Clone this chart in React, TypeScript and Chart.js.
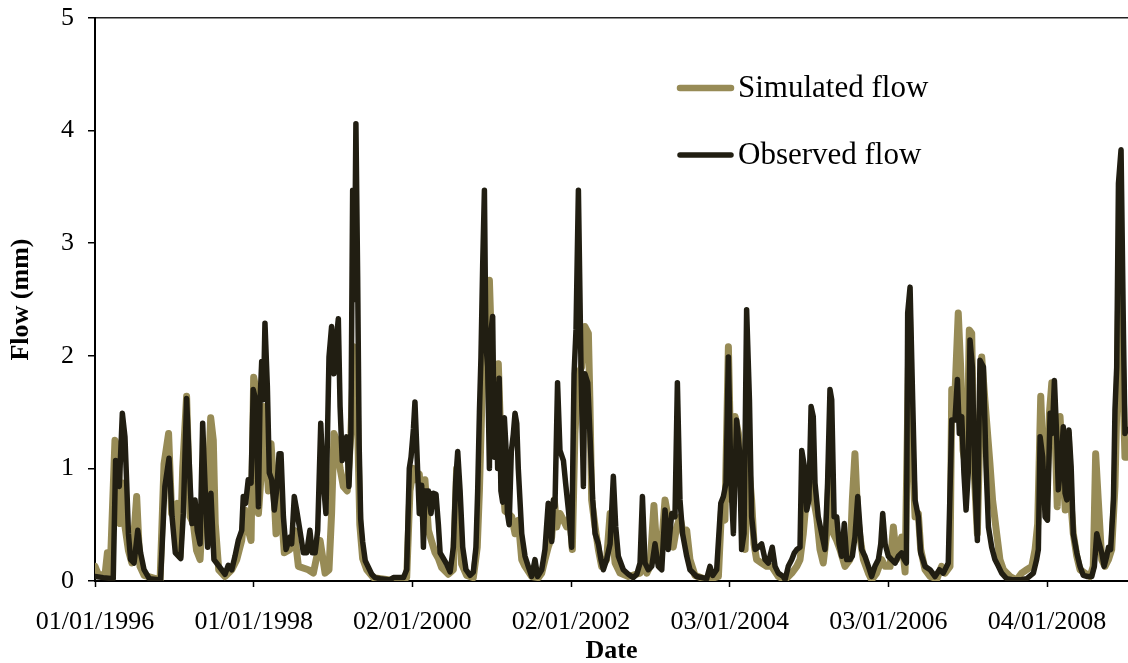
import React, { useEffect, useRef } from 'react';
import { Chart, registerables } from 'chart.js';

Chart.register(...registerables);

// x positions are days since 01/01/1996
const tickDays = [0, 731, 1462, 2193, 2924, 3655, 4386];
const tickLabels = ['01/01/1996', '01/01/1998', '02/01/2000', '02/01/2002', '03/01/2004', '03/01/2006', '04/01/2008'];

const observedDays = [
  0, 38, 84, 95, 112, 126, 138, 146, 154, 164,
  180, 197, 210, 226, 250, 302, 322, 341, 355, 370,
  395, 407, 422, 438, 447, 461, 471, 484, 496, 508,
  519, 534, 548, 576, 599, 614, 630, 645, 660, 676,
  683, 694, 706, 719, 729, 740, 753, 760, 768, 776,
  783, 794, 803, 814, 826, 837, 848, 857, 868, 880,
  898, 906, 918, 929, 944, 960, 975, 990, 1001, 1014,
  1026, 1040, 1052, 1064, 1078, 1090, 1101, 1110, 1121, 1129,
  1139, 1149, 1159, 1170, 1179, 1187, 1195, 1202, 1210, 1217,
  1224, 1233, 1245, 1260, 1275, 1290, 1313, 1359, 1375, 1421,
  1436, 1448, 1456, 1467, 1474, 1482, 1494, 1505, 1513, 1520,
  1536, 1548, 1559, 1571, 1582, 1590, 1605, 1620, 1636, 1651,
  1662, 1671, 1682, 1694, 1709, 1728, 1743, 1755, 1763, 1771,
  1778, 1786, 1794, 1801, 1809, 1817, 1823, 1832, 1840, 1848,
  1855, 1862, 1870, 1878, 1886, 1893, 1900, 1908, 1918, 1927,
  1935, 1943, 1950, 1966, 1981, 1996, 2012, 2027, 2039, 2058,
  2073, 2088, 2104, 2112, 2119, 2131, 2142, 2158, 2168, 2181,
  2196, 2207, 2216, 2227, 2239, 2250, 2257, 2270, 2280, 2293,
  2304, 2319, 2331, 2342, 2357, 2373, 2388, 2399, 2411, 2434,
  2457, 2480, 2496, 2511, 2522, 2534, 2549, 2565, 2580, 2595,
  2611, 2626, 2641, 2657, 2672, 2683, 2695, 2707, 2726, 2741,
  2772, 2818, 2833, 2846, 2864, 2883, 2895, 2907, 2918, 2930,
  2941, 2956, 2969, 2979, 2990, 3002, 3015, 3025, 3041, 3056,
  3071, 3087, 3102, 3120, 3133, 3148, 3171, 3179, 3194, 3210,
  3222, 3233, 3248, 3256, 3268, 3279, 3289, 3299, 3309, 3317,
  3332, 3348, 3363, 3375, 3386, 3394, 3405, 3417, 3428, 3440,
  3452, 3463, 3478, 3489, 3501, 3514, 3524, 3532, 3547, 3563,
  3578, 3593, 3609, 3620, 3629, 3640, 3655, 3670, 3686, 3701,
  3716, 3728, 3738, 3744, 3755, 3767, 3778, 3793, 3804, 3824,
  3847, 3870, 3890, 3908, 3931, 3947, 3962, 3973, 3982, 3993,
  4003, 4013, 4023, 4031, 4042, 4054, 4065, 4077, 4093, 4105,
  4116, 4131, 4146, 4162, 4177, 4200, 4231, 4261, 4292, 4323,
  4338, 4346, 4354, 4366, 4377, 4388, 4400, 4410, 4420, 4430,
  4438, 4449, 4461, 4469, 4477, 4487, 4497, 4507, 4523, 4538,
  4553, 4572, 4592, 4604, 4615, 4627, 4638, 4649, 4661, 4669,
  4679, 4692, 4699, 4707, 4715, 4727, 4738, 4745, 4752,
];

const observedFlow = [
  0.04, 0.03, 0.02, 1.07, 0.84, 1.49, 1.28, 0.87, 0.42, 0.19,
  0.16, 0.45, 0.25, 0.10, 0.02, 0.01, 0.84, 1.09, 0.57, 0.25,
  0.20, 0.60, 1.62, 0.87, 0.51, 0.72, 0.45, 0.33, 1.40, 0.80,
  0.30, 0.78, 0.19, 0.12, 0.06, 0.14, 0.10, 0.22, 0.36, 0.45,
  0.75, 0.69, 0.90, 0.87, 1.70, 1.61, 0.66, 1.58, 1.95, 1.61,
  2.29, 1.73, 0.96, 0.90, 0.63, 0.81, 1.13, 1.13, 0.57, 0.28,
  0.39, 0.33, 0.75, 0.63, 0.45, 0.25, 0.25, 0.45, 0.25, 0.25,
  0.45, 1.40, 0.87, 0.60, 1.99, 2.26, 1.84, 2.11, 2.33, 1.55,
  1.07, 1.13, 1.28, 0.84, 1.31, 3.47, 2.50, 4.06, 2.70, 1.20,
  0.55, 0.35, 0.18, 0.12, 0.06, 0.03, 0.02, 0.01, 0.03, 0.03,
  0.10, 1.00, 1.10, 1.35, 1.59, 1.20, 0.60, 0.85, 0.30, 0.80,
  0.80, 0.60, 0.78, 0.77, 0.50, 0.25, 0.20, 0.15, 0.08, 0.30,
  0.90, 1.15, 0.80, 0.30, 0.10, 0.05, 0.08, 0.30, 0.80, 1.50,
  1.98, 2.80, 3.47, 2.10, 1.90, 1.00, 2.20, 2.35, 1.10, 1.75,
  1.00, 1.80, 0.80, 0.70, 1.45, 1.20, 0.60, 0.50, 1.15, 1.30,
  1.49, 1.40, 1.00, 0.42, 0.22, 0.13, 0.04, 0.19, 0.04, 0.10,
  0.28, 0.69, 0.35, 0.72, 0.66, 1.76, 1.16, 1.07, 0.87, 0.63,
  0.30, 1.84, 2.23, 3.47, 1.90, 0.84, 1.84, 1.76, 1.31, 0.72,
  0.42, 0.33, 0.19, 0.10, 0.19, 0.33, 0.93, 0.48, 0.22, 0.10,
  0.06, 0.03, 0.06, 0.16, 0.75, 0.16, 0.10, 0.13, 0.33, 0.13,
  0.10, 0.63, 0.28, 0.60, 0.57, 1.76, 0.72, 0.42, 0.22, 0.10,
  0.04, 0.02, 0.13, 0.05, 0.10, 0.69, 0.75, 0.87, 1.99, 0.87,
  0.42, 1.43, 1.16, 0.28, 0.42, 2.41, 1.61, 0.57, 0.28, 0.30,
  0.33, 0.19, 0.16, 0.30, 0.13, 0.07, 0.04, 0.01, 0.13, 0.19,
  0.25, 0.28, 0.30, 1.16, 1.02, 0.63, 0.72, 1.55, 1.46, 0.87,
  0.57, 0.42, 0.28, 0.87, 1.70, 1.61, 0.57, 0.57, 0.33, 0.22,
  0.51, 0.19, 0.19, 0.22, 0.39, 0.75, 0.48, 0.28, 0.22, 0.13,
  0.04, 0.13, 0.19, 0.33, 0.60, 0.33, 0.22, 0.19, 0.16, 0.22,
  0.25, 0.19, 0.16, 2.38, 2.61, 1.61, 0.72, 0.57, 0.25, 0.13,
  0.10, 0.04, 0.10, 0.07, 0.16, 1.43, 1.43, 1.79, 1.31, 1.46,
  0.96, 0.63, 0.96, 2.14, 1.90, 0.87, 0.36, 1.96, 1.90, 1.02,
  0.48, 0.30, 0.19, 0.13, 0.07, 0.02, 0.01, 0.01, 0.02, 0.07,
  0.19, 0.28, 1.28, 1.10, 0.57, 0.54, 1.49, 1.31, 1.78, 1.31,
  0.81, 1.02, 1.37, 0.78, 0.72, 1.34, 1.02, 0.42, 0.25, 0.13,
  0.05, 0.04, 0.04, 0.13, 0.42, 0.33, 0.25, 0.13, 0.22, 0.30,
  0.28, 0.72, 1.52, 1.90, 3.53, 3.83, 2.20, 1.31, 1.35,
];

const simulatedDays = [
  0, 15, 46, 57, 69, 92, 108, 115, 126, 137,
  154, 170, 192, 207, 226, 300, 318, 339, 353, 379,
  392, 404, 422, 438, 453, 468, 484, 499, 514, 533,
  545, 554, 570, 599, 630, 653, 676, 691, 706, 719,
  731, 742, 753, 765, 777, 786, 799, 811, 822, 834,
  845, 854, 872, 898, 918, 937, 983, 1006, 1037, 1060,
  1078, 1090, 1101, 1113, 1129, 1144, 1162, 1179, 1193, 1204,
  1212, 1220, 1233, 1252, 1282, 1359, 1436, 1451, 1467, 1479,
  1494, 1505, 1520, 1536, 1551, 1567, 1582, 1597, 1628, 1651,
  1666, 1679, 1689, 1712, 1743, 1761, 1771, 1781, 1792, 1804,
  1817, 1828, 1843, 1858, 1874, 1889, 1904, 1920, 1935, 1950,
  1966, 1981, 2012, 2043, 2058, 2073, 2088, 2104, 2116, 2127,
  2142, 2158, 2173, 2188, 2199, 2211, 2227, 2242, 2257, 2273,
  2280, 2288, 2304, 2319, 2334, 2357, 2373, 2383, 2396, 2419,
  2457, 2511, 2526, 2542, 2557, 2575, 2588, 2603, 2626, 2637,
  2649, 2664, 2680, 2695, 2710, 2726, 2741, 2764, 2818, 2872,
  2887, 2902, 2918, 2933, 2949, 2964, 2979, 2995, 3008, 3025,
  3036, 3048, 3071, 3094, 3117, 3148, 3179, 3210, 3233, 3248,
  3263, 3279, 3294, 3309, 3325, 3340, 3355, 3371, 3386, 3402,
  3417, 3432, 3455, 3478, 3489, 3501, 3514, 3524, 3540, 3563,
  3578, 3601, 3624, 3640, 3663, 3678, 3693, 3716, 3732, 3744,
  3752, 3762, 3778, 3793, 3804, 3824, 3847, 3879, 3900, 3916,
  3939, 3947, 3962, 3977, 3988, 3999, 4016, 4028, 4039, 4049,
  4065, 4085, 4100, 4123, 4135, 4154, 4169, 4185, 4216, 4246,
  4269, 4292, 4316, 4331, 4343, 4357, 4369, 4384, 4397, 4408,
  4423, 4433, 4446, 4458, 4470, 4484, 4495, 4507, 4523, 4538,
  4561, 4584, 4599, 4610, 4622, 4638, 4653, 4669, 4684, 4699,
  4710, 4719, 4730, 4738, 4745, 4752,
];

const simulatedFlow = [
  0.13, 0.06, 0.05, 0.25, 0.04, 1.25, 1.16, 0.51, 0.87, 0.50,
  0.27, 0.16, 0.75, 0.13, 0.05, 0.01, 1.04, 1.31, 0.60, 0.69,
  0.22, 1.00, 1.64, 0.57, 0.51, 0.27, 0.19, 0.72, 0.50, 1.45,
  1.25, 0.51, 0.10, 0.04, 0.10, 0.19, 0.36, 0.63, 0.45, 0.36,
  1.81, 1.70, 0.60, 0.93, 1.55, 1.20, 0.80, 1.22, 0.90, 0.42,
  0.90, 0.75, 0.25, 0.28, 0.45, 0.13, 0.10, 0.07, 0.36, 0.07,
  0.10, 0.60, 1.31, 1.25, 1.00, 0.84, 0.80, 1.31, 2.08, 2.05,
  1.20, 0.50, 0.20, 0.10, 0.03, 0.01, 0.03, 0.80, 1.00, 0.90,
  0.95, 0.60, 0.90, 0.45, 0.35, 0.25, 0.20, 0.12, 0.06, 0.10,
  1.00, 0.60, 0.15, 0.05, 0.03, 0.30, 0.80, 1.50, 2.20, 2.20,
  2.67, 2.00, 1.50, 1.93, 1.00, 0.62, 0.60, 0.57, 0.42, 0.54,
  0.19, 0.13, 0.04, 0.03, 0.07, 0.19, 0.30, 0.39, 0.72, 0.48,
  0.60, 0.54, 0.48, 0.57, 0.28, 1.31, 1.84, 1.90, 2.26, 2.20,
  1.60, 0.72, 0.48, 0.28, 0.13, 0.19, 0.60, 0.42, 0.16, 0.07,
  0.04, 0.07, 0.19, 0.07, 0.13, 0.67, 0.28, 0.13, 0.72, 0.60,
  0.42, 0.30, 0.48, 0.57, 0.42, 0.45, 0.19, 0.05, 0.01, 0.04,
  0.66, 0.54, 2.08, 0.72, 1.46, 1.31, 0.87, 0.28, 1.10, 0.72,
  0.33, 0.19, 0.16, 0.13, 0.13, 0.04, 0.01, 0.07, 0.13, 0.19,
  0.42, 0.78, 0.87, 0.75, 0.57, 0.28, 0.16, 0.42, 1.16, 0.42,
  0.36, 0.28, 0.13, 0.19, 0.72, 1.13, 0.57, 0.39, 0.19, 0.07,
  0.01, 0.07, 0.19, 0.13, 0.13, 0.48, 0.19, 0.39, 0.08, 1.50,
  2.40, 1.30, 0.57, 0.60, 0.28, 0.10, 0.04, 0.02, 0.13, 0.07,
  0.13, 1.70, 1.67, 2.38, 1.90, 1.16, 0.96, 2.23, 2.20, 1.02,
  0.42, 1.99, 1.60, 1.04, 0.72, 0.42, 0.19, 0.10, 0.04, 0.01,
  0.07, 0.10, 0.13, 0.28, 0.51, 1.64, 1.02, 0.72, 1.49, 1.76,
  1.31, 0.66, 1.46, 1.02, 0.63, 1.31, 0.72, 0.42, 0.22, 0.10,
  0.07, 0.04, 0.13, 1.13, 0.72, 0.19, 0.13, 0.19, 0.28, 0.84,
  1.76, 2.90, 2.20, 1.60, 1.10, 1.10,
];

const SIM_COLOR = '#978b56';
const OBS_COLOR = '#211e12';
const FONT = '"Liberation Serif", "Times New Roman", serif';

const legendItems = [
  { label: 'Simulated flow', color: SIM_COLOR, width: 6.5 },
  { label: 'Observed flow', color: OBS_COLOR, width: 5.5 },
];

const insideLegend = {
  id: 'insideLegend',
  afterDraw(chart: any) {
    const ctx = chart.ctx;
    ctx.save();
    legendItems.forEach((it, i) => {
      const y = 88 + i * 67;
      ctx.strokeStyle = it.color;
      ctx.lineWidth = it.width;
      ctx.lineCap = 'round';
      ctx.beginPath();
      ctx.moveTo(680, y);
      ctx.lineTo(731, y);
      ctx.stroke();
      ctx.fillStyle = '#000';
      ctx.font = `31px ${FONT}`;
      ctx.textAlign = 'left';
      ctx.textBaseline = 'middle';
      ctx.fillText(it.label, 738, y + 1);
    });
    ctx.restore();
  },
};

export default function App() {
  const ref = useRef<HTMLCanvasElement | null>(null);

  useEffect(() => {
    if (!ref.current) return;
    const chart = new Chart(ref.current, {
      type: 'line',
      data: {
        datasets: [
          {
            label: 'Simulated flow',
            data: simulatedDays.map((d, i) => ({ x: d, y: simulatedFlow[i] })),
            borderColor: SIM_COLOR,
            backgroundColor: SIM_COLOR,
            borderWidth: 7,
            pointRadius: 0,
            tension: 0,
            borderJoinStyle: 'round',
            borderCapStyle: 'round',
            order: 2,
          },
          {
            label: 'Observed flow',
            data: observedDays.map((d, i) => ({ x: d, y: observedFlow[i] })),
            borderColor: OBS_COLOR,
            backgroundColor: OBS_COLOR,
            borderWidth: 5.5,
            pointRadius: 0,
            tension: 0,
            borderJoinStyle: 'round',
            borderCapStyle: 'round',
            order: 1,
          },
        ],
      },
      options: {
        responsive: false,
        animation: false,
        devicePixelRatio: 1,
        layout: { padding: { top: 18, right: 0, left: 0, bottom: 0 } },
        plugins: { legend: { display: false }, tooltip: { enabled: false } },
        scales: {
          x: {
            type: 'linear',
            min: 0,
            max: 4759,
            afterBuildTicks: (s: any) => {
              s.ticks = tickDays.map((v) => ({ value: v }));
            },
            afterFit: (s: any) => {
              s.height = 82;
              s.paddingLeft = 0;
              s.paddingRight = 0;
            },
            ticks: {
              autoSkip: false,
              maxRotation: 0,
              color: '#000',
              padding: 20,
              font: { family: FONT, size: 26 },
              callback: (v: any) => {
                const i = tickDays.indexOf(Number(v));
                return i >= 0 ? tickLabels[i] : '';
              },
            },
            grid: { drawOnChartArea: false, tickLength: 6, tickColor: '#000', tickWidth: 1.5 },
            border: { display: true, color: '#000', width: 2 },
            title: {
              display: true,
              text: 'Date',
              color: '#000',
              font: { family: FONT, size: 26, weight: 'bold', lineHeight: 0.9 },
              padding: { top: 0, bottom: 0 },
            },
          },
          y: {
            min: 0,
            max: 5,
            afterFit: (s: any) => {
              s.width = 95;
              s.paddingTop = 0;
              s.paddingBottom = 0;
            },
            ticks: {
              stepSize: 1,
              color: '#000',
              padding: 14,
              font: { family: FONT, size: 26 },
            },
            grid: {
              color: (c: any) => (c.tick && c.tick.value === 5 ? '#222' : 'rgba(0,0,0,0)'),
              lineWidth: 1.5,
              tickLength: 7,
              tickColor: '#000',
              tickWidth: 1.5,
            },
            border: { display: true, color: '#000', width: 2 },
            title: {
              display: true,
              text: 'Flow (mm)',
              color: '#000',
              font: { family: FONT, size: 26, weight: 'bold' },
              padding: { top: 6, bottom: 0 },
            },
          },
        },
      },
      plugins: [insideLegend],
    } as any);
    return () => chart.destroy();
  }, []);

  return (
    <div style={{ position: 'fixed', left: 0, top: 0, width: 1128, height: 663, background: '#fff' }}>
      <canvas ref={ref} width={1128} height={663} style={{ display: 'block' }} />
    </div>
  );
}
